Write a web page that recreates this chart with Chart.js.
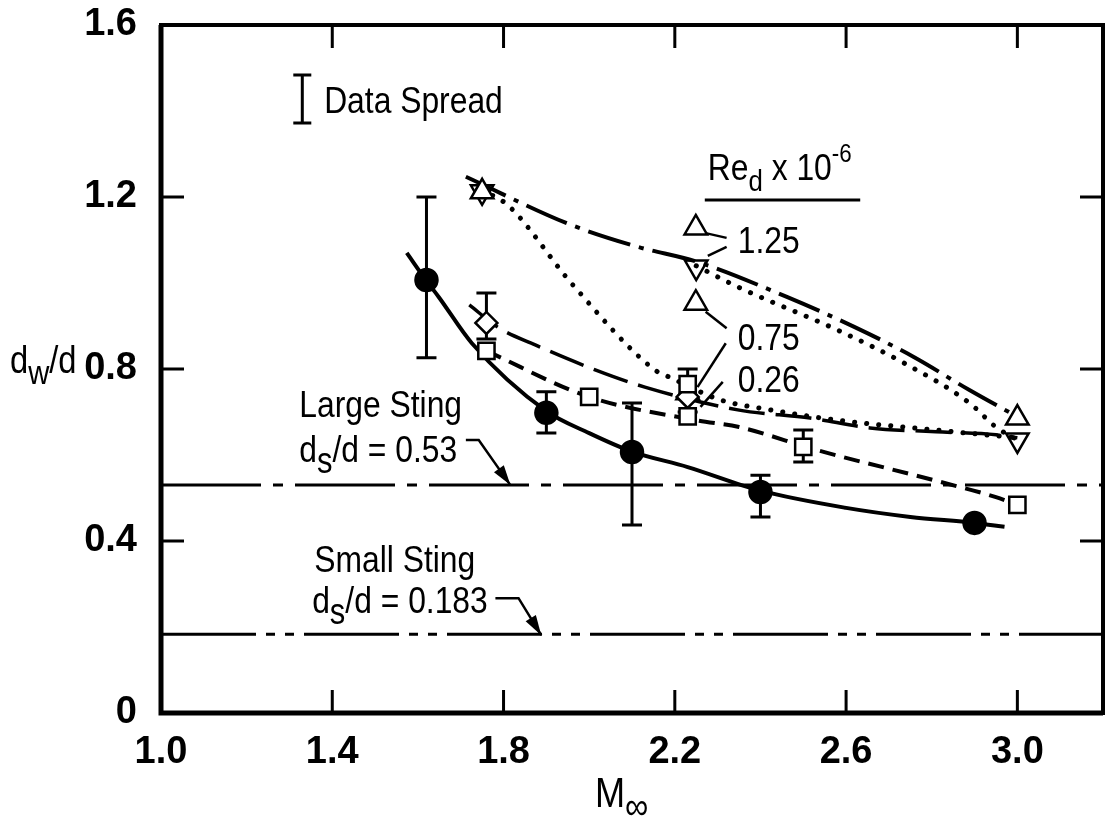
<!DOCTYPE html>
<html>
<head>
<meta charset="utf-8">
<script src="https://cdn.jsdelivr.net/npm/chart.js@4.4.1/dist/chart.umd.min.js"></script>
<style>
html, body { margin: 0; padding: 0; background: #fff; }
canvas { display: block; }
</style>
</head>
<body>
<canvas id="grafica" width="1106" height="822"></canvas>
<script>
// ejes
const xTicks = [1.0, 1.4, 1.8, 2.2, 2.6, 3.0]
const yTicks = [0, 0.4, 0.8, 1.2, 1.6]

// circulos llenos + curva ajustada
const circuloM = [1.62, 1.90, 2.10, 2.40, 2.90]
const circuloD = [1.007, 0.698, 0.607, 0.514, 0.442]
const circuloLo = [0.826, 0.651, 0.437, 0.456, null]
const circuloHi = [1.200, 0.747, 0.721, 0.553, null]
const ajusteM = [1.574, 1.62, 1.649, 1.726, 1.90, 2.00, 2.10, 2.23, 2.40, 2.60, 2.75, 2.90, 2.97]
const ajusteD = [1.070, 1.005, 0.967, 0.860, 0.702, 0.651, 0.608, 0.572, 0.517, 0.477, 0.456, 0.442, 0.433]

// cuadrados, linea de trazo corto
const cuadradoM = [1.76, 2.00, 2.23, 2.23, 2.50, 3.00]
const cuadradoD = [0.842, 0.735, 0.765, 0.690, 0.619, 0.484]
const cuadradoLo = [null, null, 0.700, null, 0.584, null]
const cuadradoHi = [null, null, 0.800, null, 0.658, null]
const trazoCortoM = [1.76, 2.00, 2.25, 2.35, 2.53, 2.83, 2.95, 3.00]
const trazoCortoD = [0.842, 0.735, 0.681, 0.665, 0.612, 0.535, 0.502, 0.484]

// rombos, linea de trazo largo
const romboM = [1.76, 2.23]
const romboD = [0.907, 0.735]
const romboLo = [0.870, null]
const romboHi = [0.977, null]
const trazoLargoM = [1.72, 1.79, 1.874, 2.014, 2.13, 2.347, 2.516, 2.656, 2.81, 2.95, 3.00]
const trazoLargoD = [0.949, 0.895, 0.856, 0.798, 0.758, 0.705, 0.686, 0.663, 0.654, 0.647, 0.640]

// triangulos
const trianguloM = [1.75, 2.23, 3.00]
const trianguloD = [1.212, 0.745, 0.686]
const invertidoM = [1.75, 2.25, 3.00]
const invertidoD = [1.212, 1.037, 0.635]
const leyendaTriM = [2.249, 2.249]
const leyendaTriD = [1.128, 0.953]

// raya-punto (1.25)
const rayaPuntoM = [1.712, 1.958, 2.114, 2.253, 2.463, 2.619, 2.758, 2.888, 2.998]
const rayaPuntoD = [1.247, 1.135, 1.084, 1.049, 0.967, 0.898, 0.828, 0.751, 0.690]

// punteadas
const punteada1M = [1.749, 1.81, 1.958, 2.153, 2.19, 2.307, 2.423, 2.58, 2.81, 3.00]
const punteada1D = [1.216, 1.181, 1.000, 0.798, 0.780, 0.728, 0.705, 0.681, 0.658, 0.640]
const punteada2M = [2.25, 2.347, 2.579, 2.735, 2.888, 2.95, 3.00]
const punteada2D = [1.040, 0.991, 0.891, 0.814, 0.721, 0.665, 0.635]

// stings
const stingGrande = 0.53
const stingChico = 0.183

// dispersion de datos
const dispersionM = 1.33
const dispersionLo = 1.372
const dispersionHi = 1.484

// lineas guia de la leyenda
const guiaM = [[2.272, 2.321], [2.321, 2.277], [2.272, 2.321], [2.319, 2.253], [2.312, 2.260]]
const guiaD = [[1.116, 1.105], [1.084, 1.063], [0.933, 0.895], [0.860, 0.758], [0.770, 0.712]]

// flechas
const flechaM = [[1.712, 1.742, 1.816], [1.781, 1.835, 1.888]]
const flechaD = [[0.635, 0.635, 0.530], [0.267, 0.267, 0.181]]

const fuente = '"Liberation Sans", Arial, sans-serif'
const N = 37
const S = 30

// textos en coordenadas de datos
const textos = [
    { m: 1.381, d: 1.395, partes: [['Data Spread', N, 0]] },
    { m: 2.277, d: 1.240, partes: [['Re', N, 0], ['d', S, 11], [' x 10', N, 0], ['-6', 26, -18]] },
    { m: 2.347, d: 1.070, partes: [['1.25', N, 0]] },
    { m: 2.347, d: 0.844, partes: [['0.75', N, 0]] },
    { m: 2.347, d: 0.747, partes: [['0.26', N, 0]] },
    { m: 1.323, d: 0.688, partes: [['Large Sting', N, 0]] },
    { m: 1.323, d: 0.584, partes: [['d', N, 0], ['s', 36, 11], ['/d = 0.53', N, 0]] },
    { m: 1.358, d: 0.328, partes: [['Small Sting', N, 0]] },
    { m: 1.353, d: 0.233, partes: [['d', N, 0], ['s', 36, 11], ['/d = 0.183', N, 0]] }
]

function xy(m, d) {
    return m.map((v, i) => ({ x: v, y: d[i] }))
}

function serieLinea(m, d, dash, ancho, cap) {
    return {
        data: xy(m, d),
        showLine: true,
        pointRadius: 0,
        borderColor: '#000',
        borderWidth: ancho,
        borderDash: dash,
        borderCapStyle: cap || 'butt',
        cubicInterpolationMode: 'monotone',
        fill: false,
        order: 2
    }
}

function serieMarca(m, d, estilo, radio, relleno, rot) {
    return {
        data: xy(m, d),
        showLine: false,
        pointStyle: estilo,
        pointRadius: radio,
        pointRotation: rot || 0,
        pointBackgroundColor: relleno,
        pointBorderColor: '#000',
        pointBorderWidth: 2.5,
        order: 0
    }
}

// texto angosto, con subindices
function escribir(ctx, partes, x, y) {
    ctx.save()
    ctx.translate(x, y)
    ctx.scale(0.86, 1)
    ctx.fillStyle = '#000'
    ctx.textAlign = 'left'
    ctx.textBaseline = 'alphabetic'
    let cx = 0
    for (const p of partes) {
        ctx.font = `${p[1]}px ${fuente}`
        ctx.fillText(p[0], cx, p[2])
        cx += ctx.measureText(p[0]).width
    }
    ctx.restore()
}

function barraError(ctx, x, y1, y2, cap) {
    ctx.beginPath()
    ctx.moveTo(x, y1)
    ctx.lineTo(x, y2)
    ctx.moveTo(x - cap, y1)
    ctx.lineTo(x + cap, y1)
    ctx.moveTo(x - cap, y2)
    ctx.lineTo(x + cap, y2)
    ctx.stroke()
}

const dibujoExtra = {
    id: 'dibujoExtra',
    beforeDatasetsDraw(chart) {
        const ctx = chart.ctx
        const sx = chart.scales.x, sy = chart.scales.y
        ctx.save()
        ctx.strokeStyle = '#000'
        ctx.lineWidth = 3
        const grupos = [[circuloM, circuloLo, circuloHi], [cuadradoM, cuadradoLo, cuadradoHi], [romboM, romboLo, romboHi]]
        for (const g of grupos) {
            g[0].forEach((m, i) => {
                if (g[1][i] == null) return
                barraError(ctx, sx.getPixelForValue(m), sy.getPixelForValue(g[2][i]), sy.getPixelForValue(g[1][i]), 10)
            })
        }
        ctx.restore()
    },
    afterDraw(chart) {
        const ctx = chart.ctx
        const a = chart.chartArea
        const sx = chart.scales.x, sy = chart.scales.y
        ctx.save()
        ctx.strokeStyle = '#000'
        ctx.fillStyle = '#000'

        // marco
        ctx.lineWidth = 4
        ctx.strokeRect(a.left, a.top, a.right - a.left, a.bottom - a.top)
        ctx.lineWidth = 5
        ctx.beginPath()
        ctx.moveTo(a.left, a.top)
        ctx.lineTo(a.left, a.bottom)
        ctx.lineTo(a.right, a.bottom)
        ctx.stroke()

        // marcas hacia adentro
        ctx.lineWidth = 3
        ctx.beginPath()
        for (const v of xTicks) {
            const x = sx.getPixelForValue(v)
            if (Math.abs(x - a.left) < 2) continue
            ctx.moveTo(x, a.bottom); ctx.lineTo(x, a.bottom - 23)
            ctx.moveTo(x, a.top); ctx.lineTo(x, a.top + 23)
        }
        for (const v of yTicks) {
            const y = sy.getPixelForValue(v)
            if (Math.abs(y - a.bottom) < 2 || Math.abs(y - a.top) < 2) continue
            ctx.moveTo(a.left, y); ctx.lineTo(a.left + 23, y)
            ctx.moveTo(a.right, y); ctx.lineTo(a.right - 23, y)
        }
        ctx.stroke()

        // barra de dispersion
        barraError(ctx, sx.getPixelForValue(dispersionM), sy.getPixelForValue(dispersionHi), sy.getPixelForValue(dispersionLo), 9)

        // guias
        ctx.lineWidth = 2.5
        guiaM.forEach((m, i) => {
            ctx.beginPath()
            ctx.moveTo(sx.getPixelForValue(m[0]), sy.getPixelForValue(guiaD[i][0]))
            ctx.lineTo(sx.getPixelForValue(m[1]), sy.getPixelForValue(guiaD[i][1]))
            ctx.stroke()
        })

        // subrayado de la leyenda
        ctx.lineWidth = 3
        ctx.beginPath()
        ctx.moveTo(sx.getPixelForValue(2.270), sy.getPixelForValue(1.193))
        ctx.lineTo(sx.getPixelForValue(2.633), sy.getPixelForValue(1.193))
        ctx.stroke()

        // flechas
        ctx.lineWidth = 2.5
        flechaM.forEach((m, i) => {
            const pts = m.map((v, j) => [sx.getPixelForValue(v), sy.getPixelForValue(flechaD[i][j])])
            ctx.beginPath()
            ctx.moveTo(pts[0][0], pts[0][1])
            for (let j = 1; j < pts.length; j++) ctx.lineTo(pts[j][0], pts[j][1])
            ctx.stroke()
            const p1 = pts[pts.length - 2], p2 = pts[pts.length - 1]
            const ang = Math.atan2(p2[1] - p1[1], p2[0] - p1[0])
            ctx.beginPath()
            ctx.moveTo(p2[0], p2[1])
            ctx.lineTo(p2[0] - 20 * Math.cos(ang) + 6 * Math.sin(ang), p2[1] - 20 * Math.sin(ang) - 6 * Math.cos(ang))
            ctx.lineTo(p2[0] - 20 * Math.cos(ang) - 6 * Math.sin(ang), p2[1] - 20 * Math.sin(ang) + 6 * Math.cos(ang))
            ctx.closePath()
            ctx.fill()
        })

        // textos
        for (const t of textos) {
            escribir(ctx, t.partes, sx.getPixelForValue(t.m), sy.getPixelForValue(t.d))
        }

        // titulos de ejes
        escribir(ctx, [['d', 38, 0], ['w', 34, 11], ['/d', 38, 0]], a.left - 151, sy.getPixelForValue(0.79))
        escribir(ctx, [['M', 42, 0], ['\u221e', 38, 12]], a.left + 434, 807)
        ctx.restore()
    }
}

const config = {
    type: 'scatter',
    data: {
        datasets: [
            serieMarca(circuloM, circuloD, 'circle', 11, '#000'),
            serieMarca(cuadradoM, cuadradoD, 'rect', 11.5, '#fff'),
            serieMarca(romboM, romboD, 'rectRot', 11, '#fff'),
            serieMarca(trianguloM, trianguloD, 'triangle', 13, '#fff'),
            serieMarca(invertidoM, invertidoD, 'triangle', 13, 'rgba(255,255,255,0)', 180),
            serieMarca(leyendaTriM, leyendaTriD, 'triangle', 13, '#fff'),
            serieLinea(ajusteM, ajusteD, [], 4),
            serieLinea(trazoCortoM, trazoCortoD, [16, 9], 4),
            serieLinea(trazoLargoM, trazoLargoD, [36, 11], 3.5),
            serieLinea(rayaPuntoM, rayaPuntoD, [44, 9, 5, 9], 4),
            serieLinea(punteada1M, punteada1D, [0.1, 12], 5, 'round'),
            serieLinea(punteada2M, punteada2D, [0.1, 12], 5, 'round'),
            { ...serieLinea([1.0, 3.2], [stingGrande, stingGrande], [100, 12, 10, 12], 3), cubicInterpolationMode: 'default' },
            { ...serieLinea([1.0, 3.2], [stingChico, stingChico], [95, 10, 9, 10, 9, 10], 3), cubicInterpolationMode: 'default' }
        ]
    },
    options: {
        responsive: false,
        animation: false,
        devicePixelRatio: 1,
        layout: { padding: { top: 25, right: 3, left: 0, bottom: 0 }, autoPadding: false },
        plugins: { legend: { display: false }, tooltip: { enabled: false } },
        scales: {
            x: {
                type: 'linear',
                min: 1.0,
                max: 3.2,
                grid: { display: false },
                border: { display: false },
                afterBuildTicks: s => { s.ticks = xTicks.map(v => ({ value: v })) },
                afterFit: s => { s.height = 109; s.paddingLeft = 0; s.paddingRight = 0 },
                ticks: {
                    color: '#000',
                    padding: 9,
                    font: { family: fuente, size: 38, weight: 'bold' },
                    callback: v => v.toFixed(1)
                }
            },
            y: {
                type: 'linear',
                min: 0,
                max: 1.6,
                grid: { display: false },
                border: { display: false },
                afterBuildTicks: s => { s.ticks = yTicks.map(v => ({ value: v })) },
                afterFit: s => { s.width = 161; s.paddingTop = 0; s.paddingBottom = 0 },
                ticks: {
                    color: '#000',
                    padding: 16,
                    font: { family: fuente, size: 38, weight: 'bold' },
                    callback: v => v === 0 ? '0' : v.toFixed(1)
                }
            }
        }
    },
    plugins: [dibujoExtra]
}

new Chart(document.getElementById('grafica'), config)
</script>
</body>
</html>
